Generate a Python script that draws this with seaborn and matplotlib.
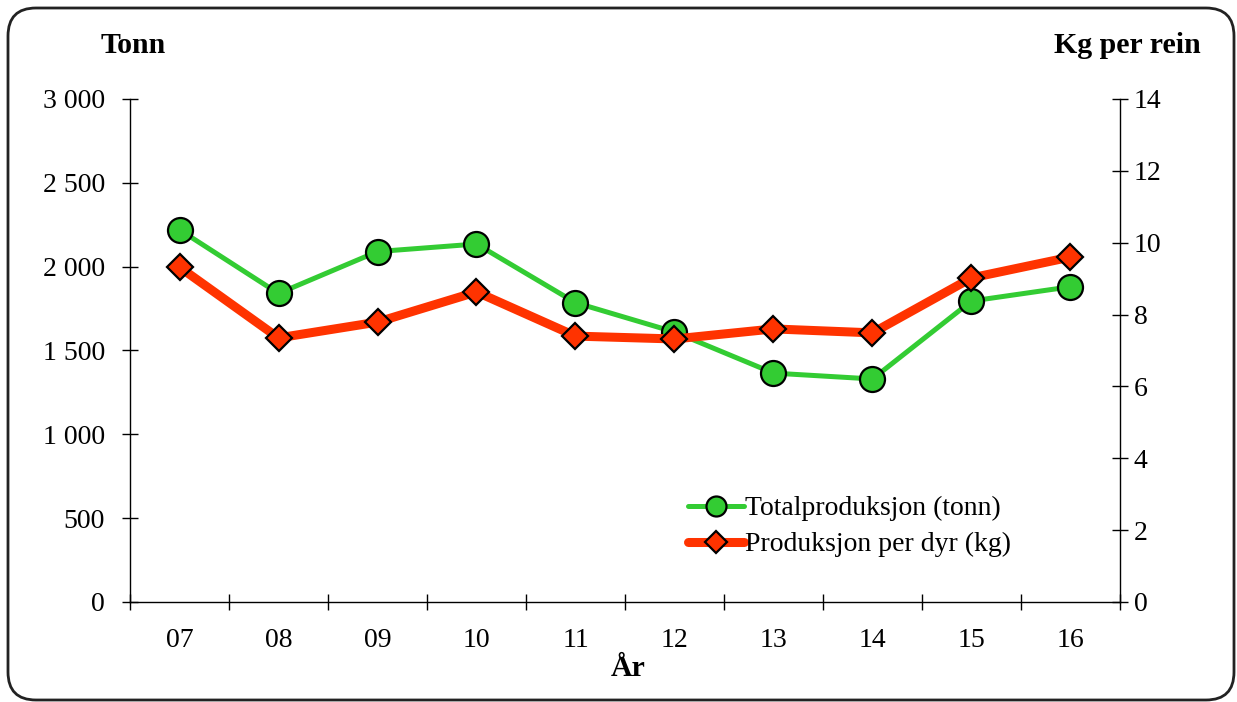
import numpy as np
import pandas as pd
import seaborn as sns
import matplotlib.pyplot as plt
from matplotlib.patches import FancyBboxPatch
from matplotlib.transforms import IdentityTransform

years = ['07', '08', '09', '10', '11', '12', '13', '14', '15', '16']
total_tonn = [2220, 1840, 2090, 2135, 1785, 1610, 1365, 1330, 1795, 1880]
kg_per_dyr = [9.32, 7.35, 7.79, 8.63, 7.40, 7.32, 7.60, 7.49, 9.02, 9.60]
left_ticks = [0, 500, 1000, 1500, 2000, 2500, 3000]
right_ticks = [0, 2, 4, 6, 8, 10, 12, 14]

sns.set_style('ticks')
plt.rcParams['font.family'] = ['Liberation Serif', 'DejaVu Serif']
plt.rcParams['text.color'] = 'black'
plt.rcParams['xtick.color'] = 'black'
plt.rcParams['ytick.color'] = 'black'

green = '#33CC33'
red = '#FF3300'

df = pd.DataFrame({'pos': np.arange(len(years)), 'tonn': total_tonn, 'kg': kg_per_dyr})

fig = plt.figure(figsize=(12.37, 7.02), dpi=100)
ax = fig.add_axes([0.1051, 0.1425, 0.8003, 0.7165])
ax2 = ax.twinx()

sns.lineplot(data=df, x='pos', y='tonn', ax=ax, color=green, linewidth=3.6,
             marker='o', markersize=18, markerfacecolor=green,
             markeredgecolor='black', markeredgewidth=1.6,
             label='Totalproduksjon (tonn)', legend=False)
sns.lineplot(data=df, x='pos', y='kg', ax=ax2, color=red, linewidth=6.5,
             marker='D', markersize=13.5, markerfacecolor=red,
             markeredgecolor='black', markeredgewidth=1.6,
             label='Produksjon per dyr (kg)', legend=False)

ax.set_xlim(-0.5, len(years) - 0.5)
ax.set_ylim(0, 3000)
ax2.set_ylim(0, 14)

ax.set_yticks(left_ticks)
ax.set_yticklabels([f'{v:,}'.replace(',', ' ') for v in left_ticks])
ax2.set_yticks(right_ticks)
ax2.set_yticklabels([str(v) for v in right_ticks])

# boundary ticks between categories, labels centered
ax.set_xticks(np.arange(-0.5, len(years), 1.0))
ax.set_xticklabels([])
ax.set_xticks(np.arange(len(years)), minor=True)
ax.set_xticklabels(years, minor=True)
ax.tick_params(axis='x', which='major', direction='inout', length=12, width=1, color='black')
ax.tick_params(axis='x', which='minor', length=0, pad=19, labelsize=20)
ax.tick_params(axis='y', direction='inout', length=12, width=1, color='black', pad=12, labelsize=20)
ax2.tick_params(axis='y', direction='inout', length=12, width=1, color='black', pad=4, labelsize=20)

ax.set_xlabel('')
ax.set_ylabel('')
ax2.set_ylabel('')

for a in (ax, ax2):
    a.spines['top'].set_visible(False)
    for s in ('left', 'right', 'bottom'):
        a.spines[s].set_color('black')
        a.spines[s].set_linewidth(1.0)
ax.spines['right'].set_visible(False)
ax2.spines['left'].set_visible(False)
ax2.spines['bottom'].set_visible(False)

h1, l1 = ax.get_legend_handles_labels()
h2, l2 = ax2.get_legend_handles_labels()
ax2.legend(h1 + h2, l1 + l2, loc='center left', bbox_to_anchor=(0.5636, 0.15),
           frameon=False, fontsize=20, handlelength=2.0, handletextpad=0.05,
           borderpad=0, borderaxespad=0, labelspacing=0.38, markerscale=0.8)

fig.text(0.108, 0.935, 'Tonn', fontsize=21.5, fontweight='bold', ha='center', va='center')
fig.text(0.9115, 0.935, 'Kg per rein', fontsize=21.5, fontweight='bold', ha='center', va='center')
fig.text(0.5077, 0.048, 'År', fontsize=21.5, fontweight='bold', ha='center', va='center')

border = FancyBboxPatch((8, 2), 1226, 692, boxstyle='round,pad=0,rounding_size=28',
                        transform=IdentityTransform(), facecolor='none',
                        edgecolor='#222222', linewidth=2)
fig.patches.append(border)

fig.savefig('out.png', dpi=100)
